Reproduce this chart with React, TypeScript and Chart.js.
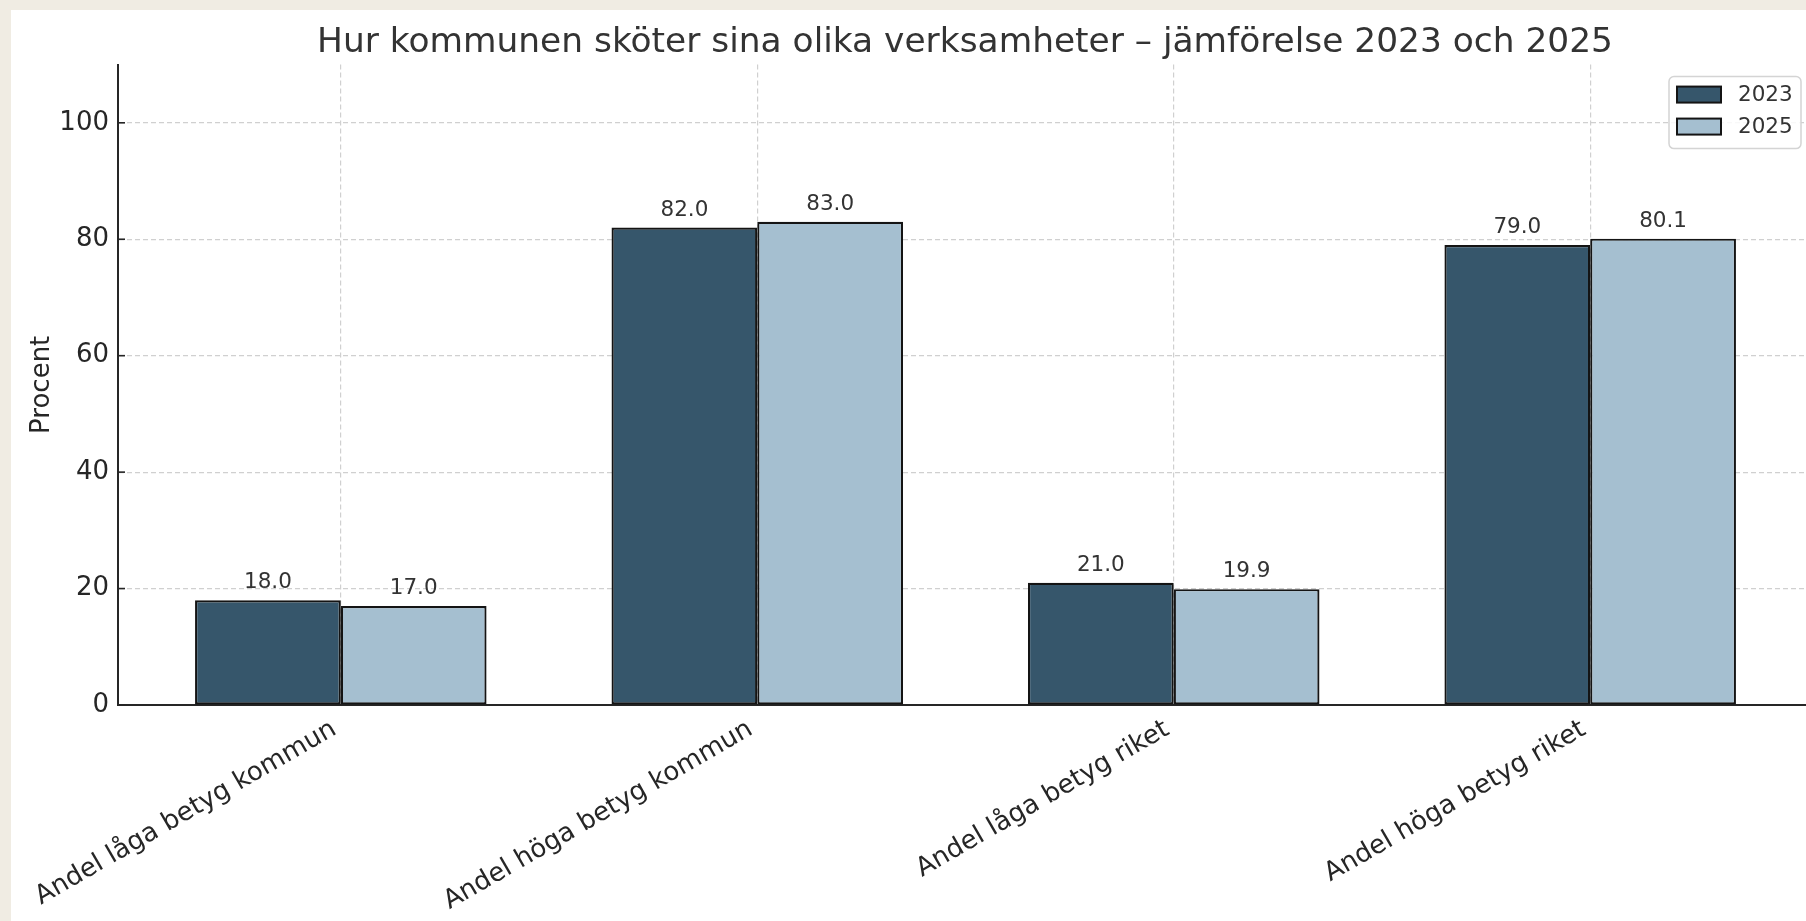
import React, { useEffect, useRef } from "react";
import { Chart, registerables } from "chart.js";

Chart.register(...registerables);

const categories = [
  "Andel låga betyg kommun",
  "Andel höga betyg kommun",
  "Andel låga betyg riket",
  "Andel höga betyg riket",
];
const seriesLabels = ["2023", "2025"];
const values2023 = [18.0, 82.0, 21.0, 79.0];
const values2025 = [17.0, 83.0, 19.9, 80.1];
const yTickValues = [0, 20, 40, 60, 80, 100];

const FONT = "'DejaVu Sans', sans-serif";
const DARK = "#36566b";
const LIGHT = "#a5bfd0";
const EDGE = "#141414";
const TEXT = "#262626";
const SMALL = 21.5;
const MID = 26;

const dataLabelPlugin = {
  id: "dataLabels",
  afterDatasetsDraw(chart: any) {
    const { ctx } = chart;
    ctx.save();
    ctx.font = `${SMALL}px ${FONT}`;
    ctx.fillStyle = "#333333";
    ctx.textAlign = "center";
    ctx.textBaseline = "alphabetic";
    chart.data.datasets.forEach((ds: any, di: number) => {
      const meta = chart.getDatasetMeta(di);
      meta.data.forEach((el: any, i: number) => {
        const v = ds.data[i].y;
        ctx.fillText(v.toFixed(1), el.x, el.y - 12);
      });
    });
    ctx.restore();
  },
};

const inwardTicksPlugin = {
  id: "inwardTicks",
  afterDatasetsDraw(chart: any) {
    const { ctx, chartArea } = chart;
    const ys = chart.scales.y;
    ctx.save();
    ctx.strokeStyle = TEXT;
    ctx.lineWidth = 1.6;
    ys.ticks.forEach((t: any) => {
      const py = ys.getPixelForValue(t.value);
      ctx.beginPath();
      ctx.moveTo(chartArea.left, py);
      ctx.lineTo(chartArea.left + 7, py);
      ctx.stroke();
    });
    ctx.restore();
  },
};

const legendPlugin = {
  id: "boxLegend",
  afterDraw(chart: any) {
    const { ctx, chartArea } = chart;
    const w = 132;
    const h = 72;
    const x = chartArea.right - 12 - w;
    const y = chartArea.top + 12;
    ctx.save();
    ctx.beginPath();
    (ctx as any).roundRect(x, y, w, h, 5);
    ctx.fillStyle = "rgba(255,255,255,0.85)";
    ctx.fill();
    ctx.strokeStyle = "#d4d4d4";
    ctx.lineWidth = 1.5;
    ctx.stroke();
    chart.data.datasets.forEach((ds: any, i: number) => {
      const sy = y + 10 + i * 32;
      ctx.fillStyle = ds.backgroundColor;
      ctx.fillRect(x + 8, sy, 44, 16);
      ctx.strokeStyle = EDGE;
      ctx.lineWidth = 2;
      ctx.strokeRect(x + 8, sy, 44, 16);
      ctx.fillStyle = "#333333";
      ctx.font = `${SMALL}px ${FONT}`;
      ctx.textAlign = "left";
      ctx.textBaseline = "middle";
      ctx.fillText(ds.label, x + 69, sy + 8.5);
    });
    ctx.restore();
  },
};

export default function App() {
  const canvasRef = useRef<HTMLCanvasElement | null>(null);

  useEffect(() => {
    const canvas = canvasRef.current;
    if (!canvas) return;
    const chart = new Chart(canvas, {
      type: "bar",
      data: {
        datasets: [
          {
            label: seriesLabels[0],
            data: values2023.map((v, i) => ({ x: i, y: v })),
            backgroundColor: DARK,
            borderColor: EDGE,
            borderWidth: 2.2,
            borderSkipped: false,
            categoryPercentage: 0.7,
            barPercentage: 1.0,
          },
          {
            label: seriesLabels[1],
            data: values2025.map((v, i) => ({ x: i, y: v })),
            backgroundColor: LIGHT,
            borderColor: EDGE,
            borderWidth: 2.2,
            borderSkipped: false,
            categoryPercentage: 0.7,
            barPercentage: 1.0,
          },
        ],
      },
      options: {
        responsive: false,
        animation: false,
        devicePixelRatio: 1,
        layout: { padding: 0 },
        plugins: {
          legend: { display: false },
          tooltip: { enabled: false },
          title: {
            display: true,
            text: "Hur kommunen sköter sina olika verksamheter – jämförelse 2023 och 2025",
            color: "#333333",
            font: { family: FONT, size: 34.4, weight: "normal", lineHeight: 1.2 },
            padding: { top: 12.9, bottom: 0.4 },
          },
        },
        scales: {
          x: {
            type: "linear",
            min: -0.535,
            max: 3.535,
            offset: false,
            afterBuildTicks: (s: any) => {
              s.ticks = categories.map((_, i) => ({ value: i }));
            },
            afterFit: (s: any) => {
              s.height = 216;
            },
            ticks: {
              autoSkip: false,
              minRotation: 30,
              maxRotation: 30,
              padding: 9,
              labelOffset: -6.5,
              color: TEXT,
              font: { family: FONT, size: MID },
              callback: (v: any) => categories[v] ?? "",
            },
            grid: {
              display: true,
              offset: false,
              drawTicks: false,
              color: "#d0d0d0",
              lineWidth: 1.2,
            },
            border: { display: true, color: TEXT, width: 2, dash: [5, 3] },
          },
          y: {
            type: "linear",
            position: "left",
            min: 0,
            max: 110,
            afterBuildTicks: (s: any) => {
              s.ticks = yTickValues.map((v) => ({ value: v }));
            },
            afterFit: (s: any) => {
              s.width = 107;
            },
            ticks: {
              padding: 9,
              color: TEXT,
              font: { family: FONT, size: MID },
            },
            grid: {
              display: true,
              drawTicks: false,
              color: "#d0d0d0",
              lineWidth: 1.2,
            },
            border: { display: true, color: TEXT, width: 2, dash: [5, 3] },
            title: {
              display: true,
              text: "Procent",
              color: TEXT,
              font: { family: FONT, size: MID },
              padding: { top: 15.7, bottom: 0 },
            },
          },
          yRightSpace: {
            type: "linear",
            position: "right",
            display: true,
            afterFit: (s: any) => {
              s.width = 106;
            },
            ticks: { display: false },
            grid: { display: false, drawTicks: false },
            border: { display: false },
          },
        },
      },
      plugins: [dataLabelPlugin, inwardTicksPlugin, legendPlugin],
    } as any);
    return () => chart.destroy();
  }, []);

  return (
    <div
      style={{
        position: "fixed",
        left: 0,
        top: 0,
        width: "100vw",
        height: "100vh",
        overflow: "hidden",
        background: "#f0ece3",
      }}
    >
      <div
        style={{
          position: "absolute",
          left: 11,
          top: 10,
          width: 1908,
          height: 911,
          background: "#ffffff",
        }}
      >
        <canvas
          ref={canvasRef}
          width={1908}
          height={911}
          style={{ display: "block", width: 1908, height: 911 }}
        />
      </div>
    </div>
  );
}
